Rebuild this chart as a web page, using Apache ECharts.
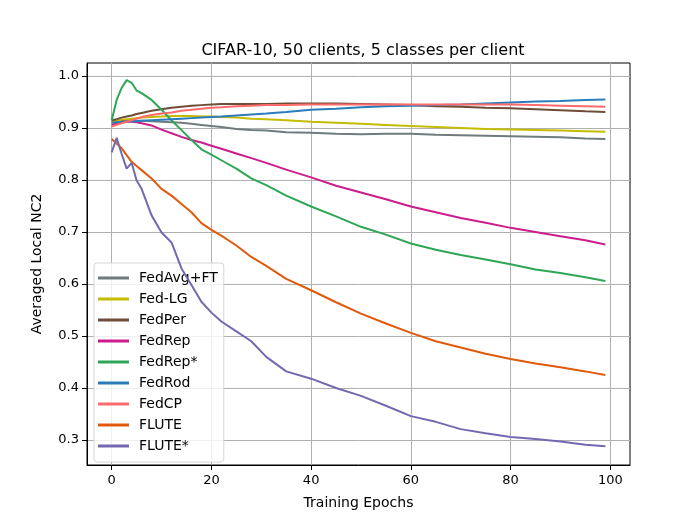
<!DOCTYPE html>
<html>
<head>
<meta charset="utf-8">
<script src="https://cdn.jsdelivr.net/npm/echarts@6/dist/echarts.min.js"></script>
<style>
  html, body { margin: 0; padding: 0; background: #fff; }
  #chart { width: 700px; height: 520px; }
</style>
</head>
<body>
<div id="chart"></div>
<script>
var epochs = [0, 1, 2, 3, 4, 5, 6, 8, 10, 12, 14, 16, 18, 20, 22, 25, 28, 31, 35, 40, 45, 50, 55, 60, 65, 70, 75, 80, 85, 90, 95, 99];

var fedAvgFT = [0.912, 0.914, 0.915, 0.915, 0.915, 0.914, 0.914, 0.913, 0.912, 0.911, 0.910, 0.908, 0.906, 0.904, 0.902, 0.898, 0.896, 0.895, 0.892, 0.891, 0.889, 0.888, 0.889, 0.889, 0.887, 0.886, 0.885, 0.884, 0.883, 0.882, 0.880, 0.879];
var fedLG = [0.912, 0.914, 0.916, 0.917, 0.918, 0.919, 0.920, 0.921, 0.922, 0.923, 0.923, 0.923, 0.922, 0.922, 0.921, 0.920, 0.918, 0.917, 0.915, 0.912, 0.910, 0.908, 0.906, 0.904, 0.902, 0.900, 0.898, 0.897, 0.896, 0.895, 0.894, 0.893];
var fedPer = [0.915, 0.917, 0.920, 0.922, 0.924, 0.927, 0.929, 0.933, 0.936, 0.939, 0.941, 0.943, 0.944, 0.945, 0.946, 0.946, 0.946, 0.946, 0.947, 0.947, 0.947, 0.946, 0.945, 0.944, 0.942, 0.941, 0.939, 0.938, 0.936, 0.934, 0.932, 0.931];
var fedRep = [0.906, 0.909, 0.912, 0.912, 0.912, 0.911, 0.909, 0.905, 0.897, 0.890, 0.883, 0.877, 0.872, 0.866, 0.860, 0.851, 0.842, 0.833, 0.820, 0.805, 0.789, 0.776, 0.763, 0.749, 0.738, 0.727, 0.718, 0.708, 0.700, 0.692, 0.684, 0.676];
var fedRepStar = [0.915, 0.954, 0.977, 0.992, 0.987, 0.972, 0.967, 0.954, 0.935, 0.915, 0.896, 0.877, 0.859, 0.849, 0.838, 0.822, 0.803, 0.790, 0.770, 0.749, 0.730, 0.710, 0.695, 0.678, 0.666, 0.656, 0.647, 0.638, 0.628, 0.621, 0.613, 0.606];
var fedRod = [0.910, 0.911, 0.912, 0.912, 0.913, 0.913, 0.914, 0.915, 0.916, 0.917, 0.918, 0.919, 0.920, 0.921, 0.922, 0.924, 0.926, 0.928, 0.931, 0.935, 0.937, 0.940, 0.942, 0.943, 0.944, 0.945, 0.947, 0.949, 0.951, 0.952, 0.954, 0.955];
var fedCP = [0.903, 0.906, 0.909, 0.912, 0.915, 0.918, 0.921, 0.925, 0.928, 0.930, 0.933, 0.935, 0.937, 0.939, 0.940, 0.942, 0.943, 0.944, 0.944, 0.945, 0.945, 0.945, 0.945, 0.945, 0.945, 0.945, 0.945, 0.945, 0.944, 0.943, 0.942, 0.941];
var flute = [0.879, 0.870, 0.861, 0.848, 0.835, 0.827, 0.819, 0.803, 0.783, 0.770, 0.754, 0.738, 0.717, 0.704, 0.693, 0.674, 0.652, 0.635, 0.610, 0.588, 0.565, 0.543, 0.524, 0.506, 0.490, 0.478, 0.466, 0.456, 0.447, 0.440, 0.432, 0.425];
var fluteStar = [0.853, 0.881, 0.850, 0.822, 0.833, 0.799, 0.783, 0.732, 0.699, 0.680, 0.630, 0.598, 0.566, 0.545, 0.528, 0.509, 0.490, 0.460, 0.432, 0.418, 0.400, 0.385, 0.366, 0.346, 0.335, 0.321, 0.313, 0.306, 0.302, 0.297, 0.291, 0.288];

var xTicks = [0, 20, 40, 60, 80, 100];
var yTicks = [0.3, 0.4, 0.5, 0.6, 0.7, 0.8, 0.9, 1.0];

var seriesNames = ['FedAvg+FT', 'Fed-LG', 'FedPer', 'FedRep', 'FedRep*', 'FedRod', 'FedCP', 'FLUTE', 'FLUTE*'];
var seriesData = [fedAvgFT, fedLG, fedPer, fedRep, fedRepStar, fedRod, fedCP, flute, fluteStar];
var colors = ['#6f7b7c', '#c4bc00', '#6e4c38', '#cc1d8c', '#2ea656', '#2a7dba', '#ff6b6b', '#e05a0c', '#7668b0'];

var font = 'DejaVu Sans';

function pairs(values) {
    return values.map(function (v, i) { return [epochs[i], v]; });
}

var myChart = echarts.init(document.getElementById('chart'));

var option = {
    animation: false,
    color: colors,
    title: {
        text: 'CIFAR-10, 50 clients, 5 classes per client',
        left: 358,
        top: 38,
        textAlign: 'center',
        textStyle: { fontFamily: font, fontSize: 16, fontWeight: 'normal', color: '#000' }
    },
    grid: {
        left: 87,
        right: 70,
        top: 63,
        bottom: 55,
        show: true,
        borderColor: '#000',
        borderWidth: 1,
        backgroundColor: 'transparent'
    },
    legend: {
        orient: 'vertical',
        left: 94,
        top: 263,
        padding: [8, 6, 9, 4],
        itemGap: 7,
        itemWidth: 31,
        itemHeight: 3,
        icon: 'rect',
        backgroundColor: 'rgba(255,255,255,0.8)',
        borderColor: '#d6d6d6',
        borderWidth: 1,
        borderRadius: 3,
        data: seriesNames,
        textStyle: { fontFamily: font, fontSize: 14, color: '#000', lineHeight: 14, padding: [0, 0, 0, 5] }
    },
    xAxis: {
        type: 'value',
        min: -4.95,
        max: 103.95,
        name: 'Training Epochs',
        nameLocation: 'middle',
        nameGap: 31,
        nameTextStyle: { fontFamily: font, fontSize: 14, color: '#000' },
        axisLine: { show: true, onZero: false, lineStyle: { color: '#000', width: 1 } },
        axisTick: { show: true, length: 5, customValues: xTicks, lineStyle: { color: '#000' } },
        axisLabel: { customValues: xTicks, fontFamily: font, fontSize: 13, color: '#000', margin: 9 },
        splitLine: { show: true, lineStyle: { color: '#b0b0b0', width: 1 } }
    },
    yAxis: {
        type: 'value',
        min: 0.252,
        max: 1.025,
        name: 'Averaged Local NC2',
        nameLocation: 'middle',
        nameRotate: 90,
        nameGap: 43,
        nameTextStyle: { fontFamily: font, fontSize: 14, color: '#000' },
        axisLine: { show: true, onZero: false, lineStyle: { color: '#000', width: 1 } },
        axisTick: { show: true, length: 5, customValues: yTicks, lineStyle: { color: '#000' } },
        axisLabel: {
            customValues: yTicks,
            fontFamily: font, fontSize: 13, color: '#000', margin: 8,
            formatter: function (v) { return v.toFixed(1); }
        },
        splitLine: { show: true, lineStyle: { color: '#b0b0b0', width: 1 } }
    },
    series: seriesNames.map(function (name, i) {
        return {
            name: name,
            type: 'line',
            data: pairs(seriesData[i]),
            showSymbol: false,
            symbol: 'none',
            lineStyle: { width: 2, color: colors[i] },
            itemStyle: { color: colors[i] },
            z: 2 + i
        };
    })
};

myChart.setOption(option);
</script>
</body>
</html>
